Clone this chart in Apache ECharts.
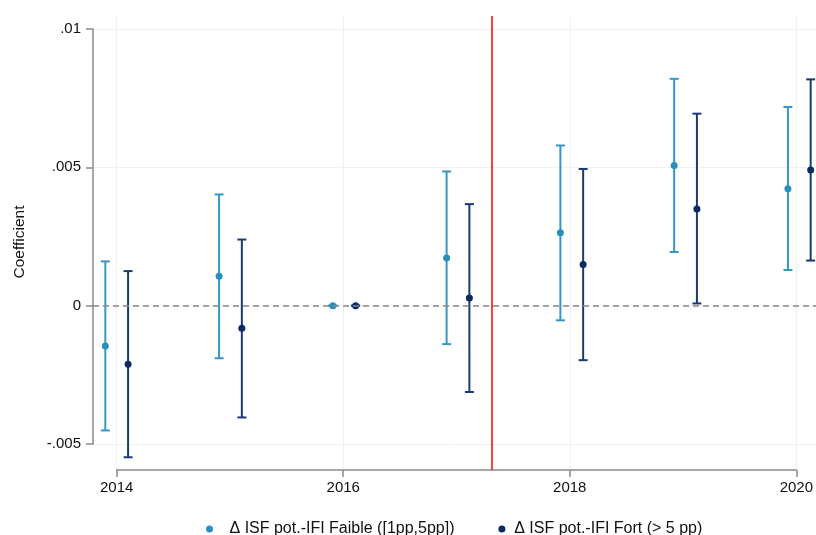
<!DOCTYPE html>
<html>
<head>
<meta charset="utf-8">
<script src="https://cdn.jsdelivr.net/npm/echarts@6/dist/echarts.min.js"></script>
<style>
html,body{margin:0;padding:0;background:#fff;}
#chart{width:816px;height:535px;}
</style>
</head>
<body>
<div id="chart"></div>
<script>
// ---- data ----
const years = [2014, 2015, 2016, 2017, 2018, 2019, 2020];
const faibleName = 'Δ ISF pot.-IFI Faible ([1pp,5pp])';
const fortName = 'Δ ISF pot.-IFI Fort (> 5 pp)';
const faibleCoef = [-0.00146, 0.00106, 0, 0.00172, 0.00264, 0.00507, 0.00423];
const faibleLo   = [-0.00451, -0.00190, 0, -0.00139, -0.00053, 0.00194, 0.00129];
const faibleHi   = [0.00160, 0.00402, 0, 0.00485, 0.00579, 0.00820, 0.00718];
const fortCoef   = [-0.00212, -0.00082, 0, 0.00028, 0.00149, 0.00349, 0.00490];
const fortLo     = [-0.00548, -0.00404, 0, -0.00312, -0.00197, 0.00008, 0.00163];
const fortHi     = [0.00125, 0.00239, 0, 0.00367, 0.00494, 0.00694, 0.00818];
const eventYear = [2017.3];
const xTicks = [2014, 2016, 2018, 2020];
const yTicks = [-0.005, 0, 0.005, 0.01];
const yTickLabels = ['-.005', '0', '.005', '.01'];
const yTitle = 'Coefficient';

// ---- layout ----
const W = 816, H = 535;
const plotLeft = 93, plotTop = 16, plotBottomY = 470;
const xAxisStart = 116.7, xAxisEnd = 799.3;
const yAxisTopY = 29, yAxisBottomY = 444;
const dodge = 0.1;

const xMinTick = xTicks[0], xMaxTick = xTicks[xTicks.length - 1];
const pxPerYear = (xAxisEnd - xAxisStart) / (xMaxTick - xMinTick);
const dataXMin = xMinTick - (xAxisStart - plotLeft) / pxPerYear;
const dataXMax = xMaxTick + (W - xAxisEnd) / pxPerYear;
const yMinTick = yTicks[0], yMaxTick = yTicks[yTicks.length - 1];
const pxPerUnit = (yAxisBottomY - yAxisTopY) / (yMaxTick - yMinTick);
const dataYMin = yMinTick - (plotBottomY - yAxisBottomY) / pxPerUnit;
const dataYMax = yMaxTick + (yAxisTopY - plotTop) / pxPerUnit;

const lightColor = '#3598c4';
const lightDot = '#2b8fbe';
const darkColor = '#1b3a72';
const darkDot = '#0b2a5f';
const axisGray = '#8a8a8a';
const gridGray = '#f0f0f0';
const font = 'Liberation Sans, Arial, Helvetica, sans-serif';

const faibleBars = years.map((y, i) => [y - dodge, faibleLo[i], faibleHi[i]]);
const fortBars = years.map((y, i) => [y + dodge, fortLo[i], fortHi[i]]);
const faiblePts = years.map((y, i) => [y - dodge, faibleCoef[i]]);
const fortPts = years.map((y, i) => [y + dodge, fortCoef[i]]);

function errorBar(color) {
  return function (params, api) {
    const x = api.value(0), lo = api.value(1), hi = api.value(2);
    const top = api.coord([x, hi]);
    const bot = api.coord([x, lo]);
    const hw = 4.5;
    const st = { stroke: color, lineWidth: 2 };
    return {
      type: 'group',
      children: [
        { type: 'line', shape: { x1: top[0], y1: top[1], x2: bot[0], y2: bot[1] }, style: st },
        { type: 'line', shape: { x1: top[0] - hw, y1: top[1], x2: top[0] + hw, y2: top[1] }, style: st },
        { type: 'line', shape: { x1: bot[0] - hw, y1: bot[1], x2: bot[0] + hw, y2: bot[1] }, style: st }
      ]
    };
  };
}

const chart = echarts.init(document.getElementById('chart'), null, { renderer: 'canvas' });
chart.setOption({
  animation: false,
  backgroundColor: '#fff',
  textStyle: { fontFamily: font },
  grid: [
    { left: plotLeft, right: 0, top: plotTop, bottom: H - plotBottomY },
    { left: plotLeft, right: 0, top: yAxisTopY, bottom: H - yAxisBottomY },
    { left: xAxisStart, right: W - xAxisEnd, top: plotTop, bottom: H - plotBottomY }
  ],
  xAxis: [
    { gridIndex: 0, type: 'value', min: dataXMin, max: dataXMax, show: false },
    { gridIndex: 1, type: 'value', min: 0, max: 1, show: false },
    {
      gridIndex: 2, type: 'value', min: xMinTick, max: xMaxTick, interval: 2,
      position: 'bottom',
      axisLine: { show: true, lineStyle: { color: axisGray, width: 1.5 } },
      axisTick: { show: true, inside: false, length: 7, lineStyle: { color: axisGray, width: 1.5 } },
      axisLabel: { show: true, margin: 10, color: '#111', fontSize: 15, fontFamily: font, formatter: v => String(v) },
      splitLine: { show: true, lineStyle: { color: gridGray, width: 1 } }
    }
  ],
  yAxis: [
    { gridIndex: 0, type: 'value', min: dataYMin, max: dataYMax, show: false },
    {
      gridIndex: 1, type: 'value', min: yMinTick, max: yMaxTick, interval: 0.005,
      position: 'left',
      name: yTitle, nameLocation: 'middle', nameGap: 65, nameRotate: 90,
      nameTextStyle: { color: '#111', fontSize: 15.5, fontFamily: font, padding: [0, 11, 0, 0] },
      axisLine: { show: true, lineStyle: { color: axisGray, width: 1.5 } },
      axisTick: { show: true, inside: false, length: 7, lineStyle: { color: axisGray, width: 1.5 } },
      axisLabel: {
        show: true, margin: 12, color: '#111', fontSize: 15, fontFamily: font,
        formatter: v => {
          const k = yTicks.findIndex(t => Math.abs(t - v) < 1e-9);
          return k >= 0 ? yTickLabels[k] : '';
        }
      },
      splitLine: { show: true, lineStyle: { color: gridGray, width: 1 } }
    },
    { gridIndex: 2, type: 'value', min: 0, max: 1, show: false }
  ],
  legend: [
    {
      data: [{ name: faibleName, icon: 'circle' }],
      left: 201, top: 516, itemWidth: 30, itemHeight: 7, itemGap: 0,
      textStyle: { fontSize: 16, color: '#111', fontFamily: font },
      selectedMode: false
    },
    {
      data: [{ name: fortName, icon: 'circle' }],
      left: 493.4, top: 516, itemWidth: 14.6, itemHeight: 7, itemGap: 0,
      textStyle: { fontSize: 16, color: '#111', fontFamily: font },
      selectedMode: false
    }
  ],
  series: [
    {
      type: 'custom', name: 'faibleCI', xAxisIndex: 0, yAxisIndex: 0, z: 3,
      renderItem: errorBar(lightColor), data: faibleBars, clip: false, silent: true,
      encode: { x: 0, y: [1, 2] }
    },
    {
      type: 'custom', name: 'fortCI', xAxisIndex: 0, yAxisIndex: 0, z: 3,
      renderItem: errorBar(darkColor), data: fortBars, clip: false, silent: true,
      encode: { x: 0, y: [1, 2] }
    },
    {
      type: 'scatter', name: faibleName, xAxisIndex: 0, yAxisIndex: 0, z: 4,
      data: faiblePts, symbol: 'circle', symbolSize: 7, clip: false,
      itemStyle: { color: lightDot, opacity: 1 },
      markLine: {
        silent: true, symbol: 'none', label: { show: false }, animation: false,
        data: [
          { yAxis: 0, lineStyle: { color: '#888', type: [6, 4], width: 1.5 } },
          { xAxis: eventYear[0], lineStyle: { color: '#ff0000', type: 'solid', width: 1.5 } }
        ]
      }
    },
    {
      type: 'scatter', name: fortName, xAxisIndex: 0, yAxisIndex: 0, z: 4,
      data: fortPts, symbol: 'circle', symbolSize: 7, clip: false,
      itemStyle: { color: darkDot, opacity: 1 }
    }
  ]
});
</script>
</body>
</html>
